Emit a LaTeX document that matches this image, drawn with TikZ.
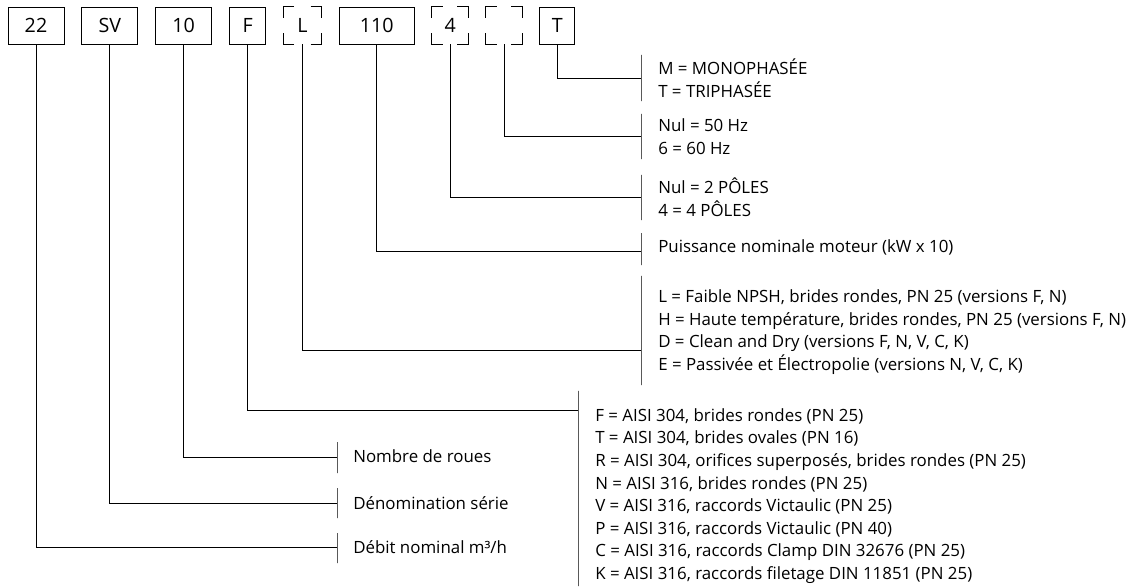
\documentclass[tikz,border=0pt]{standalone}
\usepackage{fontspec}
\setmainfont{Open Sans}
\usetikzlibrary{positioning,calc}

\begin{document}
\begin{tikzpicture}[x=0.025cm,y=-0.025cm,node distance=0.425cm,
  code/.style={draw,line width=0.6pt,minimum height=0.925cm,inner sep=0pt,
    font=\fontsize{14}{16}\selectfont},
  opt/.style={code,draw=none},
  bar/.style={draw,line width=0.6pt,minimum width=0pt,inner sep=0pt,outer sep=0pt},
  lbl/.style={anchor=west,align=left,inner sep=0pt,font=\fontsize{12}{16.1}\selectfont},
  lnk/.style={line width=0.6pt}]
\useasboundingbox (0,0) rectangle (1144,586);
% type code boxes
\node[code,minimum width=1.4cm] (c22) at (36,25.5) {22};
\node[code,minimum width=1.4cm,right=of c22] (csv) {SV};
\node[code,minimum width=1.4cm,right=of csv] (c10) {10};
\node[code,minimum width=0.9cm,right=of c10] (cf) {F};
\node[opt,minimum width=0.95cm,right=of cf] (cl) {L};
\node[code,minimum width=1.875cm,right=of cl] (c110) {110};
\node[opt,minimum width=0.9cm,right=of c110] (c4) {4};
\node[opt,minimum width=0.9cm,right=of c4] (cfq) {};
\node[code,minimum width=0.875cm,right=of cfq] (ct) {T};
% optional positions: corner marks only
\foreach \n in {cl,c4,cfq}{
  \draw[lnk] ([xshift=0.28cm]\n.north west) -- (\n.north west) -- ([yshift=-0.28cm]\n.north west);
  \draw[lnk] ([xshift=-0.28cm]\n.north east) -- (\n.north east) -- ([yshift=-0.28cm]\n.north east);
  \draw[lnk] ([xshift=0.28cm]\n.south west) -- (\n.south west) -- ([yshift=0.28cm]\n.south west);
  \draw[lnk] ([xshift=-0.28cm]\n.south east) -- (\n.south east) -- ([yshift=0.28cm]\n.south east);
}
% bars
\node[bar,minimum height=1.15cm] (bt) at (641,78) {};
\node[bar,minimum height=1.125cm] (bfq) at (641,136.5) {};
\node[bar,minimum height=1.125cm] (bp) at (641,197.5) {};
\node[bar,minimum height=0.8cm] (bkw) at (641,249) {};
\node[bar,minimum height=2.725cm] (bv) at (641,330.5) {};
\node[bar,minimum height=4.875cm] (bm) at (578,488.5) {};
\node[bar,minimum height=0.775cm] (bn) at (337,457.5) {};
\node[bar,minimum height=0.75cm] (bd) at (337,503) {};
\node[bar,minimum height=0.75cm] (bq) at (337,548) {};
% labels
\node[lbl] (tph) at (658,78.5) {M = MONOPHASÉE\\T = TRIPHASÉE};
\node[lbl] (tfq) at (658,136.5) {Nul = 50 Hz\\6 = 60 Hz};
\node[lbl] (tp) at (658,197) {Nul = 2 PÔLES\\4 = 4 PÔLES};
\node[lbl] (tkw) at (658,247) {Puissance nominale moteur (kW x 10)};
\node[lbl] (tv) at (658,332) {L = Faible NPSH, brides rondes, PN 25 (versions F, N)\\
  H = Haute température, brides rondes, PN 25 (versions F, N)\\
  D = Clean and Dry (versions F, N, V, C, K)\\
  E = Passivée et Électropolie (versions N, V, C, K)};
\node[lbl] (tm) at (595,496) {F = AISI 304, brides rondes (PN 25)\\
  T = AISI 304, brides ovales (PN 16)\\
  R = AISI 304, orifices superposés, brides rondes (PN 25)\\
  N = AISI 316, brides rondes (PN 25)\\
  V = AISI 316, raccords Victaulic (PN 25)\\
  P = AISI 316, raccords Victaulic (PN 40)\\
  C = AISI 316, raccords Clamp DIN 32676 (PN 25)\\
  K = AISI 316, raccords filetage DIN 11851 (PN 25)};
\node[lbl] (tn) at (353,456) {Nombre de roues};
\node[lbl] (td) at (353,503) {Dénomination série};
\node[lbl] (tq) at (353,547) {Débit nominal m³/h};
% connectors
\draw[lnk] (ct.south) |- (bt);
\draw[lnk] (cfq.south) |- (bfq);
\draw[lnk] (c4.south) |- (bp);
\draw[lnk] (c110.south) |- (bkw |- 0,251);
\draw[lnk] (cl.south) |- (bv |- 0,350);
\draw[lnk] (cf.south) |- (bm |- 0,410);
\draw[lnk] (c10.south) |- (bn |- 0,457);
\draw[lnk] (csv.south) |- (bd);
\draw[lnk] (c22.south) |- (bq |- 0,547);
\end{tikzpicture}
\end{document}
